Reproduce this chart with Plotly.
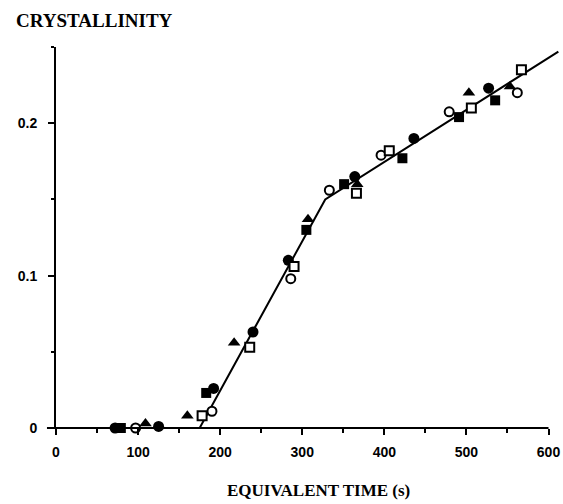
import plotly.graph_objects as go

# ---- data ----
filled_circle_x = [72, 125, 192, 240, 283, 364, 436, 527]
filled_circle_y = [0.0, 0.001, 0.026, 0.063, 0.110, 0.165, 0.190, 0.223]

filled_square_x = [79, 183, 305, 351, 422, 491, 535]
filled_square_y = [0.0, 0.023, 0.130, 0.160, 0.177, 0.204, 0.215]

filled_triangle_x = [109, 160, 217, 307, 367, 503, 553]
filled_triangle_y = [0.003, 0.008, 0.056, 0.137, 0.160, 0.220, 0.224]

open_circle_x = [97, 190, 286, 333, 396, 479, 562]
open_circle_y = [0.0, 0.011, 0.098, 0.156, 0.179, 0.2075, 0.220]

open_square_x = [178, 236, 290, 366, 406, 506, 567]
open_square_y = [0.008, 0.053, 0.106, 0.154, 0.182, 0.210, 0.235]

fit_x = [175, 328, 612]
fit_y = [0.0, 0.150, 0.247]

x_tick_vals = [0, 100, 200, 300, 400, 500, 600]
x_tick_text = ["0", "100", "200", "300", "400", "500", "600"]
y_tick_vals = [0, 0.1, 0.2]
y_tick_text = ["0", "0.1", "0.2"]

# ---- figure ----
X_MAX = 614
Y_MAX = 0.25
fig = go.Figure()

fig.add_trace(go.Scatter(x=fit_x, y=fit_y, mode="lines",
                         line=dict(color="black", width=2), showlegend=False,
                         hoverinfo="skip"))

series = [
    (filled_circle_x, filled_circle_y, "circle", 11, "black"),
    (filled_square_x, filled_square_y, "square", 10, "black"),
    (filled_triangle_x, filled_triangle_y, "triangle-up", 11, "black"),
    (open_circle_x, open_circle_y, "circle", 9, "white"),
    (open_square_x, open_square_y, "square", 9, "white"),
]
for xs, ys, sym, size, fill in series:
    fig.add_trace(go.Scatter(
        x=xs, y=ys, mode="markers", cliponaxis=False, showlegend=False,
        marker=dict(symbol=sym, size=size, color=fill,
                    line=dict(color="black", width=2 if fill == "white" else 0))))

tick_font = dict(family="Liberation Sans", size=14, color="black", weight="bold")

fig.update_xaxes(range=[0, X_MAX], showline=False, zeroline=False, showgrid=False,
                 tickmode="array", tickvals=x_tick_vals, ticktext=x_tick_text,
                 ticks="outside", ticklen=6, tickwidth=2, tickcolor="black",
                 tickfont=tick_font, ticklabelstandoff=5,
                 minor=dict(ticks="outside", dtick=50, ticklen=4, tickwidth=2,
                            tickcolor="black", showgrid=False))
fig.update_yaxes(range=[0, Y_MAX], showline=True, linecolor="black", linewidth=2,
                 zeroline=False, showgrid=False,
                 tickmode="array", tickvals=y_tick_vals, ticktext=y_tick_text,
                 ticks="outside", ticklen=6, tickwidth=2, tickcolor="black",
                 tickfont=tick_font, ticklabelstandoff=8,
                 minor=dict(ticks="outside", tickvals=[0.05, 0.15, 0.25], ticklen=3,
                            tickwidth=2, tickcolor="black", showgrid=False))

# x-axis line: from slightly left of the y axis to x=600
fig.add_shape(type="line", xref="paper", yref="paper",
              x0=-11 / X_MAX, x1=600 / X_MAX, y0=0, y1=0,
              line=dict(color="black", width=2))

fig.update_layout(
    width=563, height=504,
    margin=dict(l=56, r=3, t=47, b=76),
    paper_bgcolor="white", plot_bgcolor="white",
    title=dict(text="<b>CRYSTALLINITY</b>", xref="container", yref="container",
               x=16 / 563, xanchor="left", y=1 - 20 / 504, yanchor="middle",
               font=dict(family="Liberation Serif", size=19, color="black")),
)
fig.add_annotation(text="<b>EQUIVALENT TIME (s)</b>", xref="paper", yref="paper",
                   x=0.52, y=-0.165, xanchor="center", yanchor="middle",
                   showarrow=False,
                   font=dict(family="Liberation Serif", size=17, color="black"))

fig.write_html("out.html")
